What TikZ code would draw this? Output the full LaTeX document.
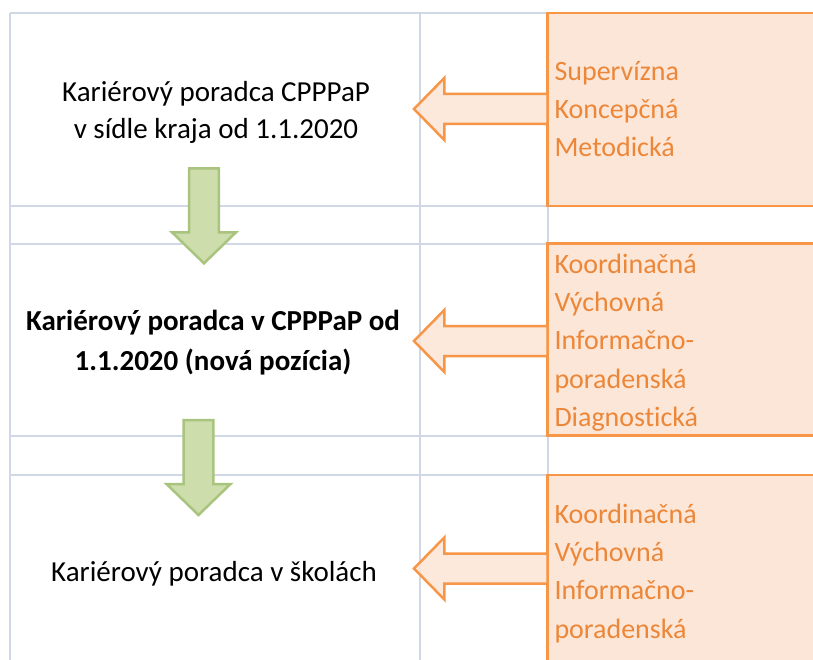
\documentclass[tikz,border=0pt]{standalone}
\usepackage{fontspec}
\setmainfont{Carlito}[Ligatures=NoCommon]
\usetikzlibrary{calc}
\definecolor{gridc}{HTML}{D0D8E5}
\definecolor{oranS}{HTML}{F79646}
\definecolor{oranF}{HTML}{FCE6D7}
\definecolor{oranT}{HTML}{EC8739}
\definecolor{greenF}{HTML}{CDDDAC}
\definecolor{greenS}{HTML}{A9C47E}
\tikzset{
  gridline/.style={draw=gridc, line width=2pt},
  oedge/.style={draw=oranS, line width=2.5pt, line join=miter},
  oarrow/.style={draw=oranS, fill=oranF, fill opacity=0.85, line width=2.5pt, line join=miter},
  garrow/.style={draw=greenS, fill=greenF, line width=2.5pt, line join=miter},
  btext/.style={inner sep=0pt, align=center, font=\fontsize{29}{36.6}\selectfont},
  otext/.style={inner sep=0pt, align=left, text=oranT, font=\fontsize{28}{38.3}\selectfont},
}
\begin{document}
\begin{tikzpicture}[x=1pt,y=-1pt]
\useasboundingbox (0,0) rectangle (813,660);
\clip (0,0) rectangle (813,660);
\fill[white] (0,0) rectangle (813,660);
% grid
\foreach \yy in {13,206,243.7,435.7,475} \draw[gridline] (10,\yy) -- (820,\yy);
\foreach \xx in {10,420,547.7} \draw[gridline] (\xx,13) -- (\xx,670);
% orange boxes (open to the right / bottom edge of the picture)
\foreach \t/\bb/\n in {13/206/box1,243.7/435.7/box2,475/700/box3}{
  \fill[oranF] (547.7,\t) rectangle (830,\bb);
  \draw[oedge] (830,\t) -- (547.7,\t) -- (547.7,\bb) -- (830,\bb);
  \coordinate (\n) at (547.7,{(\t+\bb)/2});
}
% orange arrows
\coordinate (a1) at (414,109);
\coordinate (a2) at (414,341);
\coordinate (a3) at (414,568.5);
\foreach \c/\b in {a1/box1,a2/box2,a3/box3}{
  \draw[oarrow] (\c) -- ++(30.3,-31) -- ++(0,16) -- ($(\b|-\c)+(0,-15)$)
    -- ($(\b|-\c)+(0,15)$) -- ($(\c)+(30.3,15)$) -- ++(0,16) -- cycle;
}
% green arrows
\coordinate (g1) at (204,168.3);
\coordinate (g2) at (198.5,420);
\foreach \g in {g1,g2}{
  \draw[garrow] ($(\g)+(-14.8,0)$) -- ($(\g)+(14.8,0)$) -- ($(\g)+(14.8,64)$) -- ($(\g)+(32,64)$)
    -- ($(\g)+(0,95)$) -- ($(\g)+(-32,64)$) -- ($(\g)+(-14.8,64)$) -- cycle;
}
% text
\node[btext, anchor=base] (t1) at (216,138.3) {Kariérový poradca CPPPaP\\v sídle kraja od 1.1.2020};
\node[btext, anchor=base, font=\fontsize{29}{39.3}\selectfont\bfseries] (t2) at (213,370) {Kariérový poradca v CPPPaP od\\1.1.2020 (nová pozícia)};
\node[btext, anchor=base] (t3) at (214,581) {Kariérový poradca v školách};
\node[otext, anchor=base west] (o1) at (554.3,157) {Supervízna\\Koncepčná\\Metodická};
\node[otext, anchor=base west] (o2) at (554.3,426.5) {Koordinačná\\Výchovná\\Informačno-\\poradenská\\Diagnostická};
\node[otext, anchor=base west] (o3) at (554.3,638.2) {Koordinačná\\Výchovná\\Informačno-\\poradenská};
\end{tikzpicture}
\end{document}
